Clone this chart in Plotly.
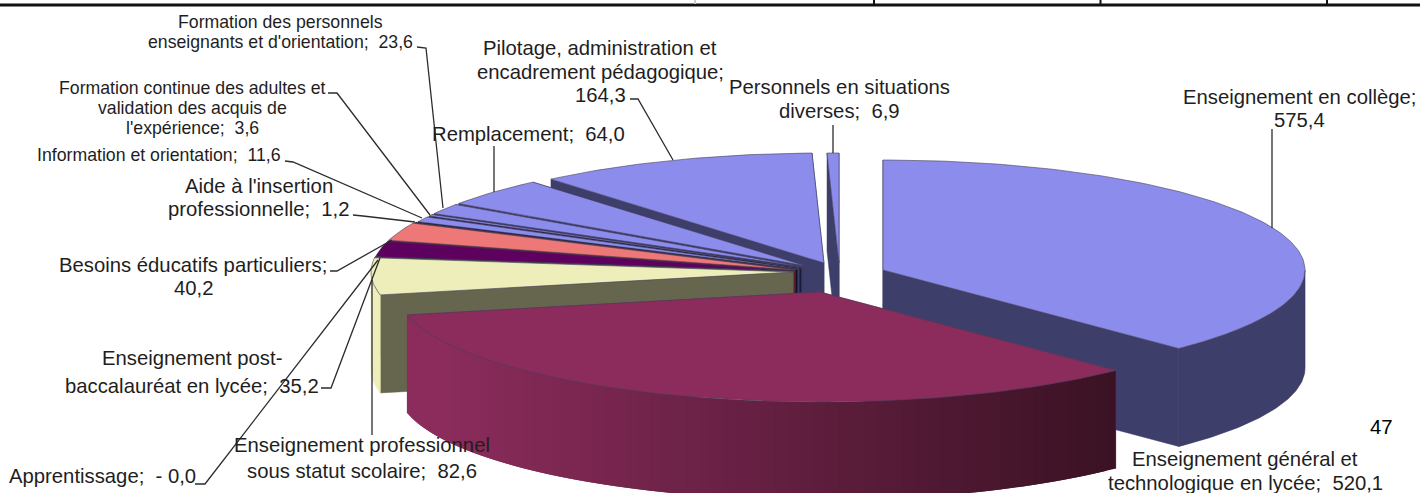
import numpy as np
import plotly.graph_objects as go

# ---- data (clockwise from 12 o'clock) ----
categories = ["Enseignement en collège", "Enseignement général et technologique en lycée",
              "Enseignement professionnel sous statut scolaire", "Apprentissage",
              "Enseignement post-baccalauréat en lycée", "Besoins éducatifs particuliers",
              "Aide à l'insertion professionnelle", "Information et orientation",
              "Formation continue des adultes et validation des acquis de l'expérience",
              "Formation des personnels enseignants et d'orientation", "Remplacement",
              "Pilotage, administration et encadrement pédagogique",
              "Personnels en situations diverses"]
values = [575.4, 520.1, 82.6, 0.0, 35.2, 40.2, 1.2, 11.6, 3.6, 23.6, 64.0, 164.3, 6.9]

# ---- styles and layout ----
BLUE, BLUE_W = "#8C8CEC", "#3E3E6B"
top_colors = [BLUE, "#8B2C5C", "#EEEEBB", "#CCEEEE", "#5E005E", "#EE7777", BLUE, BLUE, BLUE, BLUE, BLUE, BLUE, BLUE]
wall_colors = [BLUE_W, "#8B2C5C", "#66664F", "#334444", "#2A002A", "#773B3B", "#101020", BLUE_W, "#1c1c38", BLUE_W, BLUE_W, BLUE_W, BLUE_W]
arc_colors = [BLUE_W, None, "#EEEEBB", "#EEEEBB", "#5E005E", "#EE7777", BLUE, BLUE, BLUE, BLUE, BLUE, BLUE, BLUE]
apex_x = [883, 820, 793, 793.5, 794, 795, 797, 799, 801, 803, 806, 824, 839]
apex_y = [270, 292, 272, 271.5, 271, 270, 269.5, 269, 268, 267, 266, 263, 263]
draw_order = [12, 11, 10, 9, 8, 7, 6, 5, 4, 3, 2, 0, 1]
RX, RY, DEPTH = 422, 110, 98
GRAD_START, GRAD_END = (0x8B, 0x2C, 0x5C), (0x3B, 0x12, 0x24)

FONT = "Liberation Sans"
TXT = "#1e1e1e"
BIG, SMALL = 20.3, 17.7
label_lines = [
    (1299, BIG, [("Enseignement en collège;", 97), ("575,4", 120)]),
    (1245, BIG, [("Enseignement général et", 459), ("technologique en lycée;\u00a0 520,1", 483)]),
    (362, BIG, [("Enseignement professionnel", 445), ("sous statut scolaire;\u00a0 82,6", 471)]),
    (102.5, BIG, [("Apprentissage;\u00a0 - 0,0", 476)]),
    (192, BIG, [("Enseignement post-", 358), ("baccalauréat en lycée;\u00a0 35,2", 386)]),
    (193, BIG, [("Besoins éducatifs particuliers;", 265), ("40,2", 288)]),
    (259, BIG, [("Aide à l'insertion", 186), ("professionnelle;\u00a0 1,2", 209)]),
    (159, SMALL, [("Information et orientation;\u00a0 11,6", 155)]),
    (192, SMALL, [("Formation continue des adultes et", 88), ("validation des acquis de", 108), ("l'expérience;\u00a0 3,6", 128)]),
    (280, SMALL, [("Formation des personnels", 22), ("enseignants et d'orientation;\u00a0 23,6", 42)]),
    (528, BIG, [("Remplacement;\u00a0 64,0", 134)]),
    (600, BIG, [("Pilotage, administration et", 48), ("encadrement pédagogique;", 72), ("164,3", 95)]),
    (839, BIG, [("Personnels en situations", 87), ("diverses;\u00a0 6,9", 111)]),
]
leaders = [
    ([1272, 1272], [129, 228]),
    ([195, 205, 378], [484, 484, 260]),
    ([372, 372], [435, 280]),
    ([321, 331, 380], [388, 388, 258]),
    ([330, 337, 392], [271, 271, 240]),
    ([353, 363, 415], [215, 216, 222]),
    ([285, 293, 422], [161, 162, 218]),
    ([328, 337, 430], [93, 93, 215]),
    ([417, 426, 443], [47, 48, 208]),
    ([494, 494], [146, 192]),
    ([630, 638, 673], [99, 99, 160]),
    ([833, 833], [125, 153]),
]

# ---- geometry computed from the values ----
vals = np.array(values)
edges = np.concatenate([[0], np.cumsum(vals)]) / vals.sum() * 2 * np.pi

fig = go.Figure()

def poly(xs, ys, fill, line=None, width=0.7):
    fig.add_trace(go.Scatter(x=list(xs), y=list(ys), mode="lines", fill="toself", fillcolor=fill,
                             line=dict(color=line or fill, width=width), hoverinfo="skip", showlegend=False))

def ex(cx, t):
    return cx + RX * np.sin(t)

def ey(cy, t):
    return cy - RY * np.cos(t)

for i in draw_order:
    a0, a1 = edges[i], edges[i + 1]
    cx, cy = apex_x[i], apex_y[i]
    # radial faces
    for a in (a1, a0):
        ox, oy = ex(cx, a), ey(cy, a)
        poly([cx, ox, ox, cx, cx], [cy, oy, oy + DEPTH, cy + DEPTH, cy], wall_colors[i], width=0.5)
    # outer wall (only the half facing the viewer)
    lo, hi = max(a0, np.pi / 2), min(a1, 3 * np.pi / 2)
    if hi > lo:
        if arc_colors[i] is None:
            n = 70
            ts = np.linspace(lo, hi, n + 1)
            xa, xb = ex(cx, ts).min(), ex(cx, ts).max()
            # painted from the right end to the left, each band reaching under the next one
            for k in range(n):
                seg = np.linspace(ts[k], ts[min(k + 2, n)], 5)
                xs, ys = ex(cx, seg), ey(cy, seg)
                f = np.clip((ex(cx, ts[k]) - xa - 40) / (xb - xa - 40), 0, 1)
                c = "#%02X%02X%02X" % tuple(int(round(s + (e - s) * f)) for s, e in zip(GRAD_START, GRAD_END))
                poly(np.r_[xs, xs[::-1], xs[0]], np.r_[ys, ys[::-1] + DEPTH, ys[0]], c, line="rgba(0,0,0,0)", width=0)
        else:
            ts = np.linspace(lo, hi, 60)
            xs, ys = ex(cx, ts), ey(cy, ts)
            poly(np.r_[xs, xs[::-1], xs[0]], np.r_[ys, ys[::-1] + DEPTH, ys[0]], arc_colors[i], line="#33335a" if i == 0 else None, width=0.6)
    # top face
    ts = np.linspace(a0, a1, max(2, int((a1 - a0) * 60)))
    poly(np.r_[cx, ex(cx, ts), cx], np.r_[cy, ey(cy, ts), cy], top_colors[i], line="#44405a", width=0.6)

# leader lines
for lx, ly in leaders:
    fig.add_trace(go.Scatter(x=lx, y=ly, mode="lines", line=dict(color="#2c2c2c", width=1.3),
                             hoverinfo="skip", showlegend=False))

# labels
ann = []
for xc, size, lines in label_lines:
    for text, yc in lines:
        ann.append(dict(x=xc, y=yc, text=text, showarrow=False, xanchor="center", yanchor="middle",
                        font=dict(family=FONT, size=size, color=TXT)))
ann.append(dict(x=1381, y=427, text="47", showarrow=False, xanchor="center", yanchor="middle",
                font=dict(family=FONT, size=BIG, color="#000000")))

# rule of the table above the chart
shapes = [dict(type="line", x0=0, x1=1420, y0=5, y1=5, line=dict(color="#111111", width=3))]
for tx in (874, 1100.5, 1327):
    shapes.append(dict(type="line", x0=tx, x1=tx, y0=0, y1=5, line=dict(color="#111111", width=2)))
shapes.append(dict(type="line", x0=695, x1=695, y0=0, y1=4, line=dict(color="#CCCCCC", width=2)))

fig.update_layout(width=1420, height=493, margin=dict(l=0, r=0, t=0, b=0), autosize=False,
                  paper_bgcolor="white", plot_bgcolor="white", showlegend=False,
                  xaxis=dict(range=[0, 1420], visible=False, fixedrange=True),
                  yaxis=dict(range=[493, 0], visible=False, fixedrange=True),
                  annotations=ann, shapes=shapes)
fig.write_html("out.html", config={"displayModeBar": False},
               post_script="document.body.style.margin='0';document.body.style.overflow='hidden';")
